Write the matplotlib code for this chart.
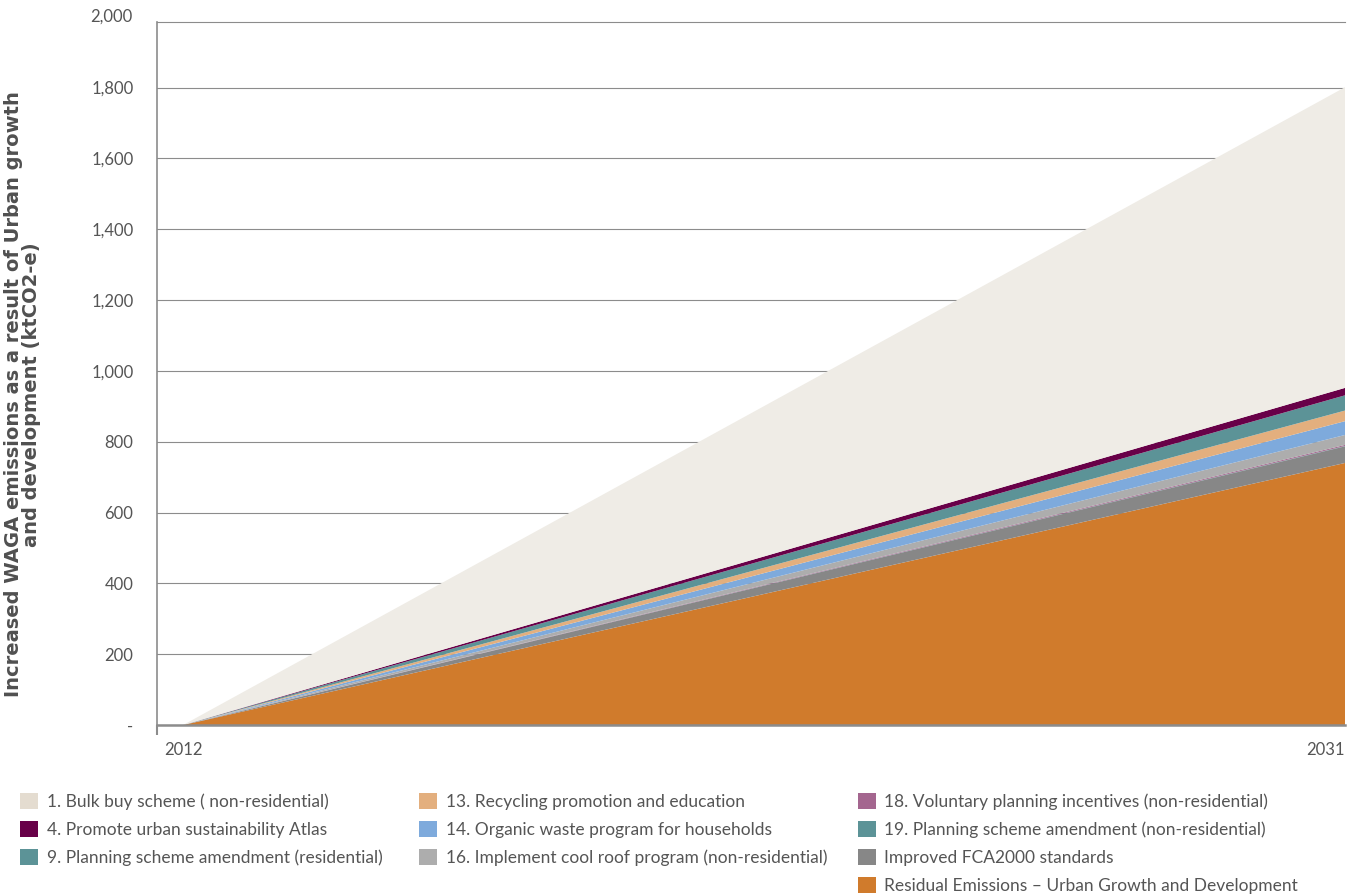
import matplotlib.pyplot as plt
from matplotlib.patches import Patch
from matplotlib.ticker import FixedLocator

plt.rcParams['font.family'] = ['Lato', 'DejaVu Sans']

# emissions (ktCO2-e) at start and end of the period, stacked bottom to top
years = [2012, 2031]
residual = [0, 740]
fca2000 = [0, 47]
m19 = [0, 1]
m18 = [0, 3]
m16 = [0, 28]
m14 = [0, 39]
m13 = [0, 30]
m9 = [0, 43]
m4 = [0, 21]
m1 = [0, 849]

series = [residual, fca2000, m19, m18, m16, m14, m13, m9, m4, m1]
names = ['Residual Emissions \u2013 Urban Growth and Development',
         'Improved FCA2000 standards',
         '19. Planning scheme amendment (non-residential)',
         '18. Voluntary planning incentives (non-residential)',
         '16. Implement cool roof program (non-residential)',
         '14. Organic waste program for households',
         '13. Recycling promotion and education',
         '9. Planning scheme amendment (residential)',
         '4. Promote urban sustainability Atlas',
         '1. Bulk buy scheme ( non-residential)']
colors = ['#d07b2c', '#878787', '#5c9397', '#a4668f', '#adadad',
          '#7eaadc', '#e3af7e', '#5c9397', '#680048', '#efece6']
key_colors = colors[:-1] + ['#e4dcd0']

yticks = [0, 200, 400, 600, 800, 1000, 1200, 1400, 1600, 1800]
ylabels = ['-', '200', '400', '600', '800', '1,000', '1,200', '1,400', '1,600', '1,800']

grey = '#8c8c8c'
txt = '#555555'

fig = plt.figure(figsize=(13.61, 8.94), dpi=100)
ax = fig.add_axes([0.1154, 0.189, 0.8729, 0.7864])

ax.stackplot(years, *series, colors=colors, linewidth=0, zorder=2)

ax.set_xlim(2011.575, 2031)
ax.set_ylim(0, 1985)

ax.set_yticks(yticks)
ax.set_yticklabels(ylabels)
ax.yaxis.set_minor_locator(FixedLocator([0]))
ax.tick_params(axis='y', which='major', length=0, pad=17, labelsize=12, labelcolor=txt)
ax.tick_params(axis='y', which='minor', length=7, width=1.5, color=grey)
ax.text(-0.0205, 2000, '2,000', transform=ax.get_yaxis_transform(), ha='right', va='center',
        fontsize=12, color=txt, clip_on=False)

ax.set_xticks(years)
ax.set_xticklabels(['2012', '2031'])
ax.get_xticklabels()[1].set_horizontalalignment('right')
ax.xaxis.set_minor_locator(FixedLocator([2011.575, 2031]))
ax.tick_params(axis='x', which='major', length=0, pad=12, labelsize=12, labelcolor=txt)
ax.tick_params(axis='x', which='minor', length=7, width=1.5, color=grey)

ax.grid(axis='y', color=grey, linewidth=0.8, zorder=0)
ax.set_axisbelow(True)
ax.spines['right'].set_visible(False)
ax.spines['top'].set_color(grey)
ax.spines['top'].set_linewidth(0.8)
ax.spines['left'].set_color(grey)
ax.spines['left'].set_linewidth(1.2)
ax.spines['bottom'].set_color(grey)
ax.spines['bottom'].set_linewidth(1.8)

fig.text(0.0168, 0.559,
         'Increased WAGA emissions as a result of Urban growth\nand development (ktCO2-e)',
         rotation=90, ha='center', va='center', multialignment='center',
         family=['DejaVu Sans'], fontsize=14, fontweight='bold',
         color='#505050', linespacing=0.92)

# legend in three columns: 3, 3 and 4 entries
handles = [Patch(facecolor=c, edgecolor='none') for c in key_colors]
order = [9, 8, 7, 6, 5, 4, 3, 2, 1, 0]
groups = [order[0:3], order[3:6], order[6:10]]
xs = [0.0147, 0.3079, 0.6302]
for g, x in zip(groups, xs):
    leg = fig.legend([handles[i] for i in g], [names[i] for i in g],
                     loc='upper left', bbox_to_anchor=(x, 0.1125), frameon=False,
                     fontsize=12.5, handlelength=1.035, handleheight=1.035,
                     handletextpad=0.5, labelspacing=0.63, borderpad=0,
                     borderaxespad=0)
    for t in leg.get_texts():
        t.set_color(txt)

fig.savefig('out.png', dpi=100)
